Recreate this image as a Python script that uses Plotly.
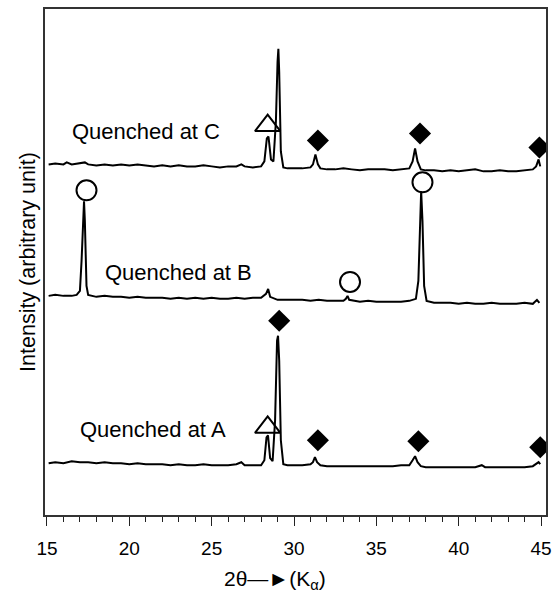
import plotly.graph_objects as go

# Two-theta positions and intensities (arbitrary units)
c_x = [15.1, 15.5, 16.0, 16.2, 16.5, 17.0, 17.3, 17.5, 18.0, 18.5, 19.0, 19.5, 20.0, 20.5, 21.0, 21.5,
       22.0, 22.5, 23.0, 23.5, 24.0, 24.5, 25.0, 25.5, 26.0, 26.5, 26.8, 27.0, 27.5, 28.0, 28.2, 28.35,
       28.45, 28.6, 28.75, 28.9, 29.0, 29.05, 29.1, 29.2, 29.35, 29.6, 30.0, 30.5, 31.0, 31.15, 31.3,
       31.45, 31.6, 32.0, 32.5, 33.0, 33.5, 34.0, 34.5, 35.0, 35.5, 36.0, 36.5, 37.0, 37.2, 37.35, 37.5,
       37.7, 38.0, 38.5, 39.0, 39.5, 40.0, 40.5, 41.0, 41.5, 42.0, 42.5, 43.0, 43.5, 44.0, 44.5, 44.7,
       44.85, 44.95]
c_y = [352, 353, 352, 354, 352, 353, 354, 352, 351, 352, 351, 352, 351, 352, 351, 350,
       351, 350, 351, 350, 350, 351, 350, 349, 350, 350, 352, 350, 349, 350, 355, 378,
       380, 357, 355, 395, 455, 468, 445, 365, 349, 348, 348, 348, 349, 352, 362,
       352, 348, 347, 347, 348, 347, 346, 347, 347, 347, 346, 347, 348, 355, 368, 355,
       347, 346, 346, 345, 346, 345, 346, 347, 345, 345, 346, 345, 345, 346, 347, 350,
       357, 350]

b_x = [15.1, 15.5, 16.0, 16.5, 16.8, 17.0, 17.1, 17.2, 17.25, 17.3, 17.4, 17.5, 18.0, 18.5, 19.0, 19.5,
       20.0, 20.5, 21.0, 21.5, 22.0, 22.5, 23.0, 23.5, 24.0, 24.5, 25.0, 25.5, 26.0, 26.5, 27.0, 27.5,
       28.0, 28.3, 28.43, 28.55, 29.0, 29.5, 30.0, 30.5, 31.0, 31.5, 32.0, 32.5, 33.0, 33.15, 33.25,
       33.35, 33.6, 34.0, 34.5, 35.0, 35.5, 36.0, 36.5, 37.0, 37.4, 37.55, 37.65, 37.72, 37.8, 37.9,
       38.05, 38.5, 39.0, 39.5, 40.0, 40.5, 41.0, 41.5, 42.0, 42.5, 43.0, 43.5, 44.0, 44.5, 44.75, 44.9]
b_y = [220, 221, 220, 220, 221, 225, 255, 310, 315, 295, 230, 221, 219, 220, 219, 219,
       218, 219, 218, 218, 218, 217, 218, 217, 218, 217, 218, 217, 217, 218, 217, 218,
       218, 222, 227, 219, 216, 216, 216, 216, 215, 216, 215, 215, 215, 217, 220,
       216, 215, 214, 215, 214, 214, 214, 214, 215, 217, 235, 285, 325, 295, 230,
       215, 213, 213, 213, 212, 213, 212, 212, 213, 212, 212, 212, 213, 212, 216, 213]

a_x = [15.1, 15.5, 16.0, 16.5, 17.0, 17.5, 18.0, 18.5, 19.0, 19.5, 20.0, 20.5, 21.0, 21.5, 22.0, 22.5,
       23.0, 23.5, 24.0, 24.5, 25.0, 25.5, 26.0, 26.5, 26.8, 27.0, 27.5, 28.0, 28.2, 28.33, 28.42, 28.55,
       28.7, 28.85, 28.97, 29.03, 29.1, 29.2, 29.35, 29.6, 30.0, 30.5, 31.0, 31.15, 31.27, 31.4, 31.6,
       32.0, 32.5, 33.0, 33.5, 34.0, 34.5, 35.0, 35.5, 36.0, 36.5, 37.0, 37.2, 37.35, 37.5, 37.7, 38.0,
       38.5, 39.0, 39.5, 40.0, 40.5, 41.0, 41.4, 41.6, 42.0, 42.5, 43.0, 43.5, 44.0, 44.5, 44.7, 44.85,
       44.95]
a_y = [52, 53, 52, 54, 53, 53, 52, 53, 52, 52, 51, 52, 51, 51, 51, 50,
       51, 50, 50, 51, 50, 50, 50, 51, 53, 50, 50, 50, 55, 78, 80, 57,
       54, 95, 175, 180, 155, 75, 51, 50, 50, 50, 51, 53, 58, 53, 50,
       49, 49, 49, 49, 49, 49, 49, 49, 49, 50, 50, 55, 59, 53, 49, 48,
       48, 48, 48, 48, 48, 48, 50, 48, 48, 48, 48, 48, 48, 49, 51, 53,
       51]

# Phase markers
tri_x = [28.4, 28.4]
tri_y = [391, 88]
dia_x = [31.45, 37.65, 44.9, 29.1, 31.45, 37.55, 44.95]
dia_y = [376, 383, 369, 195, 75, 74, 68]
circ_x = [17.4, 33.4, 37.8]
circ_y = [326, 234, 334]

labels = ["Quenched at C", "Quenched at B", "Quenched at A"]
label_x = [16.4, 18.4, 16.9]
label_y = [385, 243, 86]

tick_vals = [15, 20, 25, 30, 35, 40, 45]
tick_text = ["15", "20", "25", "30", "35", "40", "45"]

fig = go.Figure()
for xs, ys in [(c_x, c_y), (b_x, b_y), (a_x, a_y)]:
    fig.add_trace(go.Scatter(x=xs, y=ys, mode="lines",
                             line=dict(color="black", width=2), showlegend=False))

fig.add_trace(go.Scatter(x=tri_x, y=tri_y, mode="markers", showlegend=False,
                         marker=dict(symbol="triangle-up-open", size=22, color="black",
                                     line=dict(color="black", width=2))))
fig.add_trace(go.Scatter(x=dia_x, y=dia_y, mode="markers", showlegend=False,
                         marker=dict(symbol="diamond", size=17, color="black",
                                     line=dict(width=0))))
fig.add_trace(go.Scatter(x=circ_x, y=circ_y, mode="markers", showlegend=False,
                         marker=dict(symbol="circle-open", size=20, color="black",
                                     line=dict(color="black", width=2))))

for t, x, y in zip(labels, label_x, label_y):
    fig.add_annotation(x=x, y=y, text=t, showarrow=False, xanchor="left", yanchor="middle",
                       font=dict(family="Arial", size=22, color="black"))

# x-axis title placed as a paper annotation (slightly left of the plot centre, as in the reference)
fig.add_annotation(xref="paper", yref="paper", x=0.46, y=-0.128, xanchor="center", yanchor="middle",
                   text="2θ\u2014\u25BA(K<sub>α</sub>)", showarrow=False,
                   font=dict(family="Arial", size=21, color="black"))

fig.update_layout(
    width=559, height=596,
    margin=dict(l=45, r=9, t=7, b=81),
    paper_bgcolor="white", plot_bgcolor="white",
    font=dict(family="Arial", color="black"),
    xaxis=dict(range=[14.88, 45.3], tickmode="array", tickvals=tick_vals, ticktext=tick_text,
               ticks="outside", ticklen=9, tickwidth=1.2, tickcolor="#222",
               minor=dict(dtick=1, ticks="outside", ticklen=5, tickwidth=1, tickcolor="#222"),
               showline=True, linecolor="#333", linewidth=1.5, mirror=True,
               showgrid=False, zeroline=False, tickfont=dict(size=19),
               ticklabelstandoff=6),
    yaxis=dict(range=[0, 508], showticklabels=False, ticks="", showline=True,
               linecolor="#333", linewidth=1.5, mirror=True, showgrid=False, zeroline=False,
               title=dict(text="Intensity (arbitrary unit)", font=dict(size=21.5), standoff=2)),
)

fig.write_html("out.html")
